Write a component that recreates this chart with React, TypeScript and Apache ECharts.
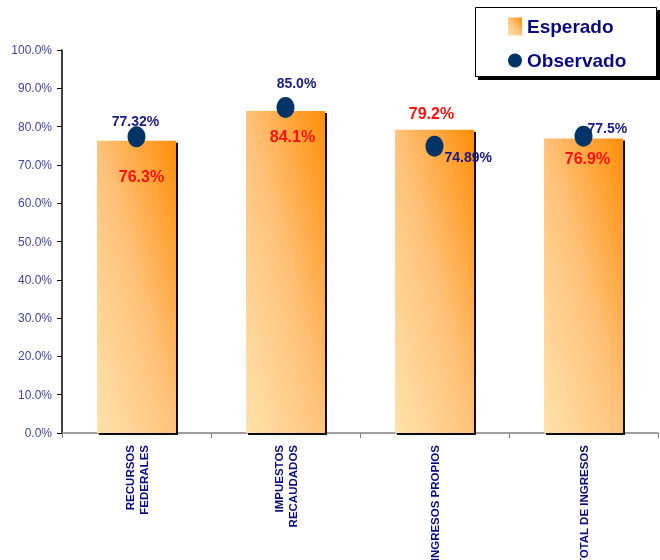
import React, { useEffect, useRef } from "react";
import * as echarts from "echarts";

const categories = ["RECURSOS\nFEDERALES", "IMPUESTOS\nRECAUDADOS", "INGRESOS PROPIOS", "TOTAL DE INGRESOS"];
const esperado = [76.3, 84.1, 79.2, 76.9];
const observado = [77.32, 85.0, 74.89, 77.5];
const observadoLabels = ["77.32%", "85.0%", "74.89%", "77.5%"];
const yTicks = [0, 10, 20, 30, 40, 50, 60, 70, 80, 90, 100];

const SANS = "'Liberation Sans', Arial, sans-serif";

export default function App() {
  const ref = useRef<HTMLDivElement>(null);
  useEffect(() => {
    const chart = echarts.init(ref.current!, null, { renderer: "svg" });
    const barGrad = new echarts.graphic.LinearGradient(0, 1, 1, 0, [
      { offset: 0, color: "#FFE2AC" },
      { offset: 0.5, color: "#FFC27A" },
      { offset: 1, color: "#FF8E08" },
    ]);
    const espLabelCfg = [
      { position: "insideTop", offset: [5, 23] },
      { position: "insideTop", offset: [7, 13] },
      { position: "top", offset: [-3, -3] },
      { position: "insideTop", offset: [4, 7] },
    ];
    const obsLabelCfg = [
      { position: "top", offset: [-1, 5] },
      { position: "top", offset: [11, -4] },
      { position: "right", offset: [-2, 11] },
      { position: "right", offset: [-8, -8] },
    ];
    const option = {
      animation: false,
      grid: { left: 62, right: 2, top: 50, bottom: 127, containLabel: false, outerBoundsMode: "none" },
      graphic: [
        { type: "rect", shape: { x: 478, y: 10, width: 182, height: 70 }, style: { fill: "#000" }, z: 1 },
        { type: "rect", shape: { x: 475.5, y: 7.5, width: 181, height: 69 }, style: { fill: "#fff", stroke: "#000", lineWidth: 1 }, z: 2 },
      ],
      legend: {
        orient: "vertical",
        left: 508,
        top: 17,
        padding: 0,
        itemGap: 15,
        itemWidth: 14,
        itemHeight: 18,
        z: 10,
        textStyle: { fontFamily: SANS, fontWeight: "bold", fontSize: 19, color: "#0A0A80" },
        data: [
          { name: "Esperado", icon: "rect" },
          { name: "Observado", icon: "circle" },
        ],
      },
      xAxis: {
        type: "category",
        data: categories,
        boundaryGap: true,
        axisLine: { lineStyle: { color: "#808080", width: 1.5 } },
        axisTick: { show: true, length: 5, lineStyle: { color: "#808080" } },
        axisLabel: {
          rotate: 90,
          interval: 0,
          margin: 12,
          fontFamily: SANS,
          fontWeight: "bold",
          fontSize: 11.5,
          lineHeight: 14,
          color: "#0A0A80",
        },
      },
      yAxis: {
        type: "value",
        min: 0,
        max: 100,
        interval: 10,
        splitLine: { show: false },
        axisLine: { show: true, lineStyle: { color: "#000", width: 1.5 } },
        axisTick: { show: true, length: 5, lineStyle: { color: "#000" } },
        axisLabel: {
          margin: 10,
          fontFamily: SANS,
          fontSize: 12,
          color: "#4242A6",
          formatter: (v: number) => (yTicks.includes(v) ? v.toFixed(1) + "%" : ""),
        },
      },
      series: [
        {
          name: "Esperado",
          type: "bar",
          barWidth: "53%",
          itemStyle: {
            color: barGrad,
            shadowColor: "rgba(0,0,0,0.95)",
            shadowOffsetX: 2,
            shadowOffsetY: 2,
            shadowBlur: 1,
          },
          data: esperado.map((v, i) => ({
            value: v,
            label: {
              show: true,
              position: espLabelCfg[i].position,
              offset: espLabelCfg[i].offset,
              distance: 5,
              formatter: (p: any) => p.value.toFixed(1) + "%",
              fontFamily: SANS,
              fontWeight: "bold",
              fontSize: 16,
              color: "#FF1010",
            },
          })),
          z: 2,
        },
        {
          name: "Observado",
          type: "scatter",
          symbol: "circle",
          symbolSize: [18, 21],
          itemStyle: { color: "#003366", opacity: 1 },
          data: observado.map((v, i) => ({
            value: v,
            label: {
              show: true,
              position: obsLabelCfg[i].position,
              offset: obsLabelCfg[i].offset,
              distance: 3,
              formatter: () => observadoLabels[i],
              fontFamily: SANS,
              fontWeight: "bold",
              fontSize: 14,
              color: "#1A1A80",
            },
          })),
          z: 5,
        },
      ],
    };
    chart.setOption(option as any);
    return () => chart.dispose();
  }, []);
  return <div ref={ref} style={{ position: "fixed", left: 0, top: 0, width: 660, height: 560 }} />;
}
